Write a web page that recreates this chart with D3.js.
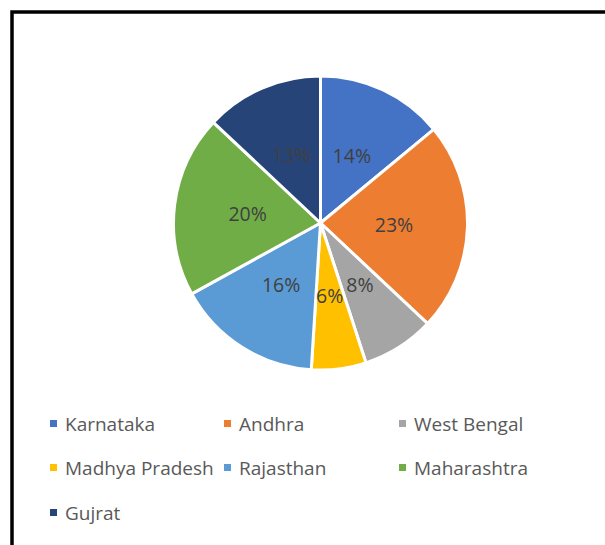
<!DOCTYPE html>
<html>
<head>
<meta charset="utf-8">
<title>State share pie</title>
<script src="https://cdn.jsdelivr.net/npm/d3@7"></script>
<style>
	html, body { margin: 0; padding: 0; background: #fff; }
	svg { display: block; }
	text { font-family: "Open Sans", "Liberation Sans", sans-serif; }
</style>
</head>
<body>
<svg id="chart"></svg>
<script>
// data
var states = ["Karnataka", "Andhra", "West Bengal", "Madhya Pradesh", "Rajasthan", "Maharashtra", "Gujrat"];
var shares = [14, 23, 8, 6, 16, 20, 13];
var colors = ["#4472C4", "#ED7D31", "#A5A5A5", "#FFC000", "#5B9BD5", "#70AD47", "#264478"];

var w = 605, h = 545;
var cx = 320.5, cy = 223, r = 147;

var svg = d3.select("#chart").attr("width", w).attr("height", h);

// frame (only top and left edges show in the crop)
svg.append("rect")
	.attr("x", 12).attr("y", 12)
	.attr("width", w + 20).attr("height", h + 20)
	.attr("fill", "#fff")
	.attr("stroke", "#000")
	.attr("stroke-width", 3.5);

var table = states.map(function(s, i) { return { name: s, value: shares[i], color: colors[i] }; });

var pie = d3.pie().sort(null).value(function(d) { return d.value; });
var arc = d3.arc().innerRadius(0).outerRadius(r);

var g = svg.append("g").attr("transform", "translate(" + cx + "," + cy + ")");

var slices = g.selectAll(".slice").data(pie(table)).enter();

slices.append("path")
	.attr("d", arc)
	.attr("fill", function(d) { return d.data.color; })
	.attr("stroke", "#fff")
	.attr("stroke-width", 3)
	.attr("stroke-linejoin", "round");

slices.append("text")
	.attr("transform", function(d) { return "translate(" + arc.centroid(d) + ")"; })
	.attr("text-anchor", "middle")
	.attr("dy", "0.35em")
	.attr("font-size", 19.5)
	.attr("fill", "#404040")
	.text(function(d) { return d.data.value + "%"; });

// legend, 3 columns
var colX = [50, 224, 399];
var rowY = [424, 468, 513];
var lg = svg.selectAll(".legend").data(table).enter().append("g")
	.attr("transform", function(d, i) { return "translate(" + colX[i % 3] + "," + rowY[Math.floor(i / 3)] + ")"; });

lg.append("rect")
	.attr("x", 0).attr("y", -4)
	.attr("width", 7).attr("height", 7)
	.attr("fill", function(d) { return d.color; });

lg.append("text")
	.attr("x", 15)
	.attr("dy", "0.35em")
	.attr("font-size", 19)
	.attr("fill", "#595959")
	.text(function(d) { return d.name; });
</script>
</body>
</html>
